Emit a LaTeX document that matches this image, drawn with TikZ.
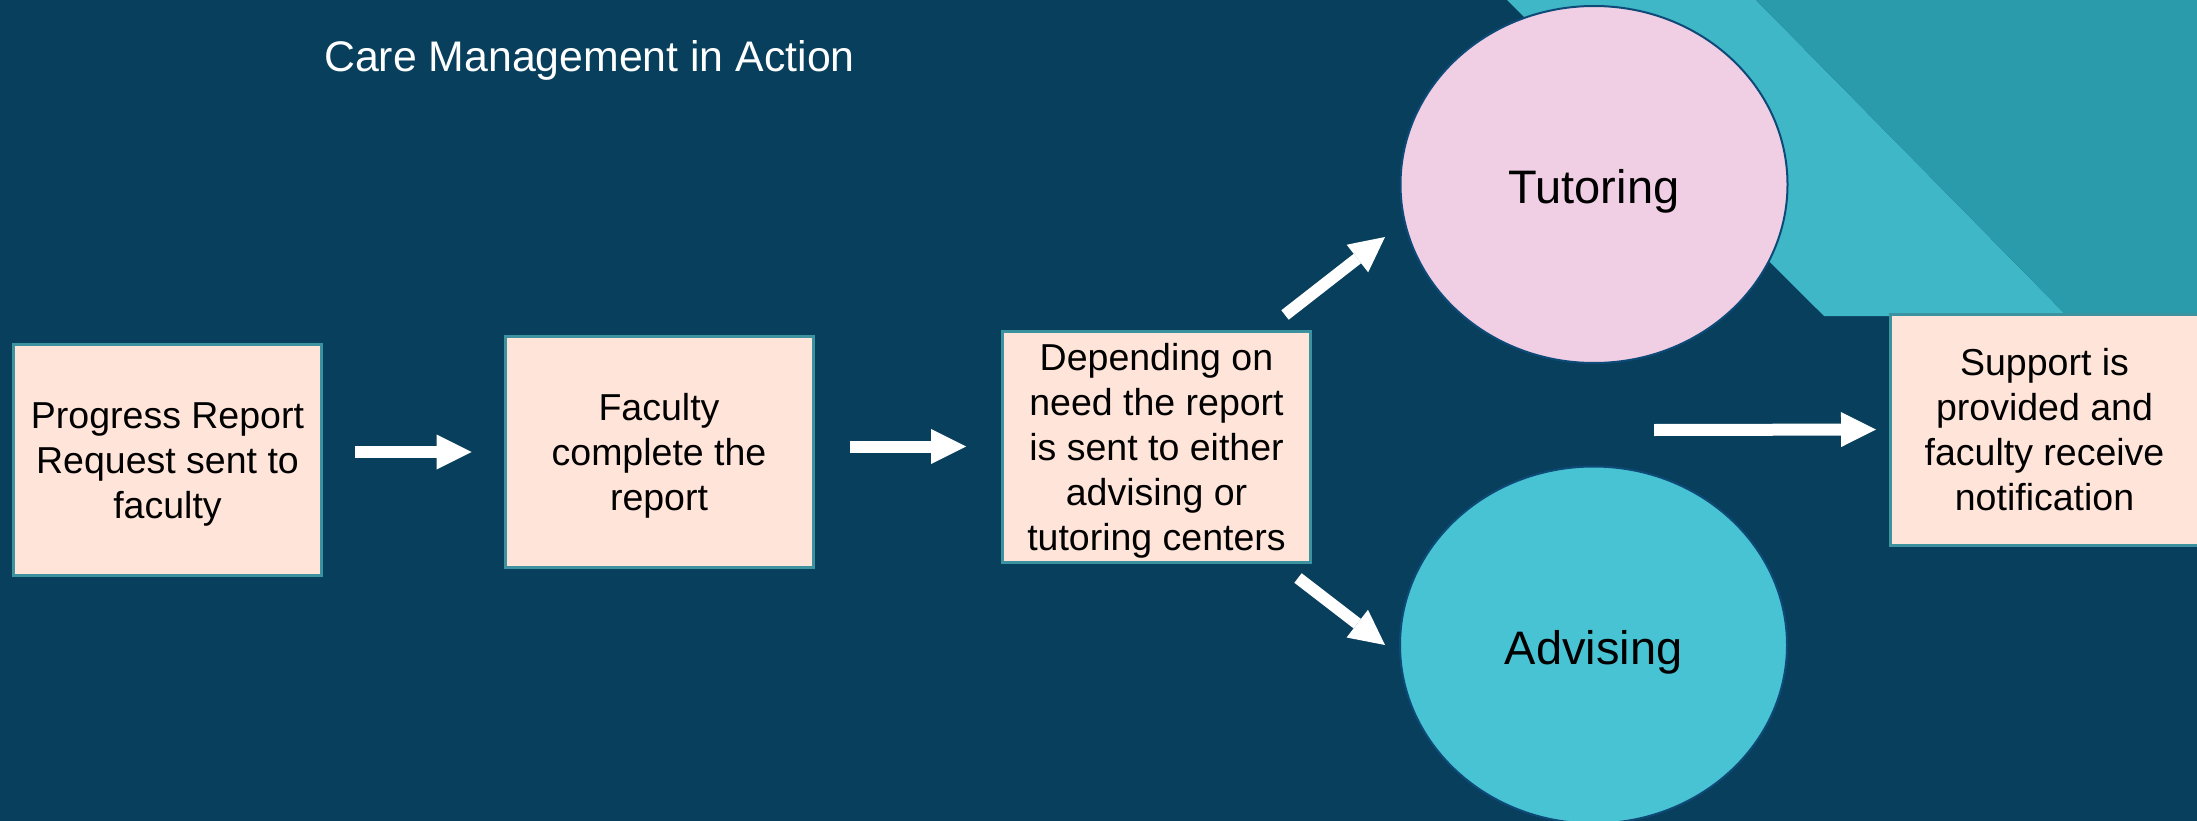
\documentclass[tikz,border=0pt]{standalone}
\usepackage{fontspec}
\setmainfont{Liberation Sans}
\usetikzlibrary{shapes.geometric,arrows.meta}
\definecolor{bgnavy}{HTML}{083F5C}
\definecolor{bandlight}{HTML}{40B7C7}
\definecolor{banddark}{HTML}{2A9BAB}
\definecolor{boxfill}{HTML}{FFE5D9}
\definecolor{boxedge}{HTML}{3C939F}
\definecolor{tutfill}{HTML}{F0CFE4}
\definecolor{advfill}{HTML}{48C3D3}
\definecolor{elledge}{HTML}{0E4A78}
\newcommand\stepbody[1]{\raisebox{-4.5pt}[\height][\depth]{\begin{tabular}{@{}c@{}}#1\end{tabular}}}
\begin{document}
\begin{tikzpicture}[x=1pt,y=-1pt,
  stepbox/.style={draw=boxedge,line width=3pt,fill=boxfill,
    minimum width=308pt,minimum height=231pt,inner sep=0pt,
    font=\fontsize{37.5pt}{45pt}\selectfont,text=black},
  centre/.style={shape=ellipse,draw=elledge,line width=2pt,inner sep=0pt,
    minimum width=387pt,minimum height=357pt,
    font=\fontsize{47pt}{56pt}\selectfont,text=black},
  blockarrow/.style={draw=white,line width=12pt,
    -{Triangle[length=35pt,width=35pt,line width=0pt]}}]
\useasboundingbox (0,0) rectangle (2197,821);
\clip (0,0) rectangle (2197,821);
\fill[bgnavy] (0,0) rectangle (2197,821);
\fill[bandlight] (1507,0) -- (1824,316) -- (2067,316) -- (1756,0) -- cycle;
\fill[banddark] (1756,0) -- (2197,0) -- (2197,316) -- (2067,316) -- cycle;
\node[anchor=base west,text=white,font=\fontsize{42.8pt}{50pt}\selectfont,inner sep=0pt]
  (title) at (324,72) {Care Management in Action};
\node[stepbox] (b1) at (167.5,460) {\stepbody{Progress Report\\Request sent to\\faculty}};
\node[stepbox] (b2) at (659,452) {\stepbody{Faculty\\complete the\\report}};
\node[stepbox] (b3) at (1156.5,446.5) {\stepbody{Depending on\\need the report\\is sent to either\\advising or\\tutoring centers}};
\node[stepbox] (b4) at (2044.5,429.5) {\stepbody{Support is\\provided and\\faculty receive\\notification}};
\node[centre,fill=tutfill] (tut) at (1594,184.5) {\raisebox{-7pt}[\height][\depth]{Tutoring}};
\node[centre,fill=advfill] (adv) at (1593.5,645) {\raisebox{-7pt}[\height][\depth]{Advising}};
\coordinate (a3s) at (1285,315);
\coordinate (a3e) at (1385,237);
\coordinate (a4s) at (1298,578);
\coordinate (a4e) at (1385,645);
\coordinate (a5s) at (1654,430);
\draw[blockarrow,shorten <=32pt,shorten >=32pt] (b1.east |- b2.west) -- (b2.west);
\draw[blockarrow,shorten <=35pt,shorten >=35pt] (b2.east |- b3.west) -- (b3.west);
\draw[blockarrow] (a3s) -- (a3e);
\draw[blockarrow] (a4s) -- (a4e);
\draw[blockarrow,shorten >=13pt] (a5s) -- (b4.west);
\end{tikzpicture}
\end{document}
